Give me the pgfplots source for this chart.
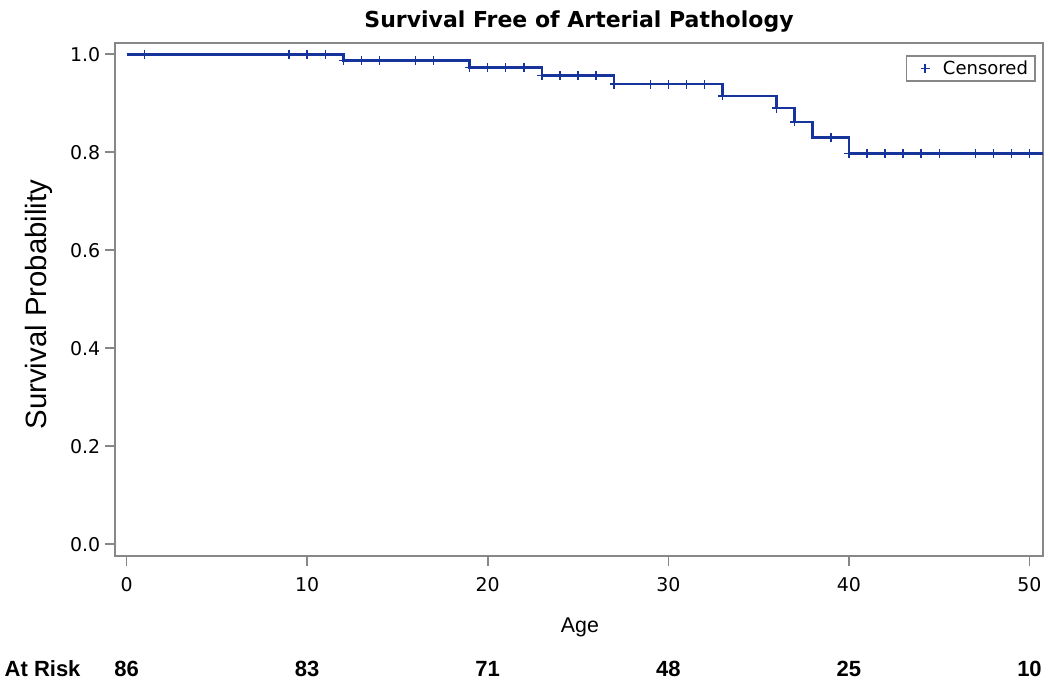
\documentclass[border=0pt]{standalone}
\usepackage{fontspec}
\setmainfont{DejaVu Sans}
\newfontfamily\arialf{Liberation Sans}
\usepackage{pgfplots}
\pgfplotsset{compat=1.18}
\pgfplotsset{censorlegend/.style={legend image code/.code={\path (-0.25cm,0) (0.2cm,0); \draw[mark repeat=2,mark phase=2,##1] plot coordinates {(0cm,0cm) (0.1cm,0cm) (0.2cm,0cm)};}}}
\definecolor{kmblue}{RGB}{22,52,156}
\definecolor{axgray}{RGB}{135,135,135}
\begin{document}
\begin{tikzpicture}
\begin{axis}[
  scale only axis,
  width=696pt, height=384.75pt,
  xmin=-0.64, xmax=50.75,
  ymin=-0.024, ymax=1.023,
  clip=false,
  axis line style={axgray, line width=1.4pt},
  tick style={axgray, line width=1.2pt},
  tick align=outside,
  major tick length=7.5pt,
  xtick={0,10,20,30,40,50},
  ytick={0,0.2,0.4,0.6,0.8,1.0},
  xtick pos=bottom, ytick pos=left,
  /pgf/number format/assume math mode=true,
  yticklabel style={/pgf/number format/fixed, /pgf/number format/fixed zerofill, /pgf/number format/precision=1, font=\fontsize{14.2}{17}\selectfont, text=black},
  xticklabel style={font=\fontsize{14.2}{17}\selectfont, text=black, yshift=-5pt},
  every axis title shift=0pt,
  title={\textbf{Survival Free of Arterial Pathology}},
  title style={at={(0.5,1.031)}, anchor=base, font=\fontsize{16.5}{20}\selectfont},
  xlabel={Age},
  xlabel style={at={(0.501,-0.150)}, anchor=base, font=\arialf\fontsize{16}{19}\selectfont},
  ylabel={Survival Probability},
  ylabel style={at={(-0.0733,0.49)}, anchor=base, font=\arialf\fontsize{22}{26}\selectfont},
  legend style={at={(0.9925,0.9766)}, anchor=north east, draw=axgray, line width=1.2pt, font=\fontsize{13.5}{16}\selectfont, inner xsep=3.5pt, inner ysep=1.5pt, legend cell align=left},
]
\addplot[const plot, kmblue, line width=2pt, forget plot] coordinates {
(0,1.0) (12,0.987) (19,0.973) (23,0.957) (27,0.939) (33,0.915) (36,0.890) (37,0.862) (38,0.830) (40,0.797) (50.75,0.797)
};
\addplot[only marks, mark=+, mark size=3.4pt, kmblue, mark options={line width=1pt}, censorlegend] coordinates {
(1,1.0) (9,1.0) (10,1.0) (11,1.0)
(12,0.987) (13,0.987) (14,0.987) (16,0.987) (17,0.987)
(19,0.973) (20,0.973) (21,0.973) (22,0.973)
(23,0.957) (24,0.957) (25,0.957) (26,0.957)
(27,0.939) (29,0.939) (30,0.939) (31,0.939) (32,0.939)
(33,0.915) (36,0.890) (37,0.862) (39,0.830)
(40,0.797) (41,0.797) (42,0.797) (43,0.797) (44,0.797) (45,0.797) (47,0.797) (48,0.797) (49,0.797) (50,0.797)
};
\addlegendentry{\hspace{8pt}Censored}
\node[anchor=base west, font=\arialf\bfseries\fontsize{16.5}{20}\selectfont] at (rel axis cs:-0.1239,-0.234) {At Risk};
\node[anchor=base, font=\arialf\bfseries\fontsize{16.5}{20}\selectfont] at (axis cs:0,-0.2695) {86};
\node[anchor=base, font=\arialf\bfseries\fontsize{16.5}{20}\selectfont] at (axis cs:10,-0.2695) {83};
\node[anchor=base, font=\arialf\bfseries\fontsize{16.5}{20}\selectfont] at (axis cs:20,-0.2695) {71};
\node[anchor=base, font=\arialf\bfseries\fontsize{16.5}{20}\selectfont] at (axis cs:30,-0.2695) {48};
\node[anchor=base, font=\arialf\bfseries\fontsize{16.5}{20}\selectfont] at (axis cs:40,-0.2695) {25};
\node[anchor=base, font=\arialf\bfseries\fontsize{16.5}{20}\selectfont] at (axis cs:50,-0.2695) {10};
\coordinate (bl) at (rel axis cs:-0.1239,-0.2417);
\coordinate (tr) at (rel axis cs:1.0075,1.0838);
\end{axis}
\pgfresetboundingbox
\path[use as bounding box] (bl) rectangle (tr);
\end{tikzpicture}
\end{document}
